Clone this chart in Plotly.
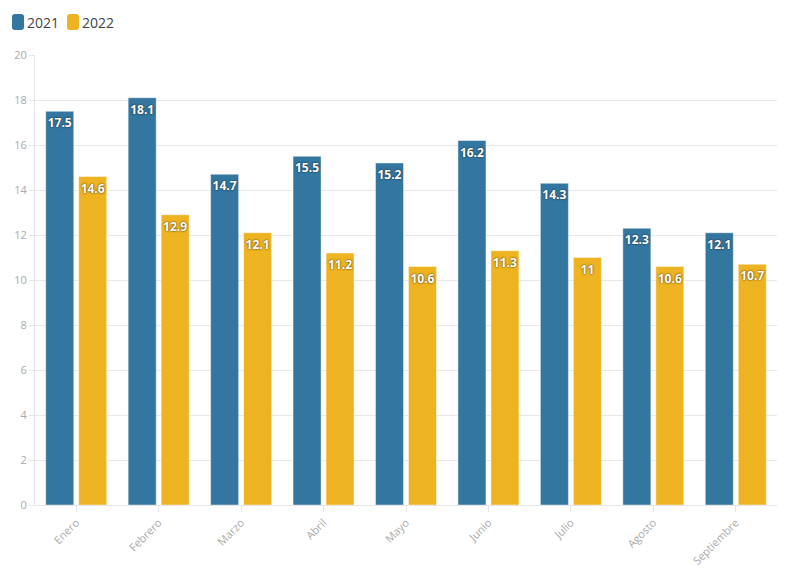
import plotly.graph_objects as go

# 月份与两年的数值
meses = ['Enero', 'Febrero', 'Marzo', 'Abril', 'Mayo', 'Junio', 'Julio', 'Agosto', 'Septiembre']
valores_2021 = [17.5, 18.1, 14.7, 15.5, 15.2, 16.2, 14.3, 12.3, 12.1]
valores_2022 = [14.6, 12.9, 12.1, 11.2, 10.6, 11.3, 11.0, 10.6, 10.7]

series = [('2021', valores_2021, 'rgb(51,118,159)'),
          ('2022', valores_2022, 'rgb(238,179,32)')]

fig = go.Figure()

for nombre, valores, color in series:
    fig.add_trace(go.Bar(
        x=meses,
        y=valores,
        name=nombre,
        marker=dict(color=color, line=dict(color='rgba(255,255,255,0.45)', width=1)),
        text=[f'{v:g}' for v in valores],
        textposition='inside',
        insidetextanchor='end',
        textangle=0,
        textfont=dict(family='Open Sans', size=12, color='white', weight='bold',
                      shadow='0px 0px 2px #1a1a1a'),
        hoverinfo='x+y+name',
        showlegend=False
    ))

# 页面 body 默认有 8px 边距，尺寸与边距据此补偿
OFF = 8
W, H = 796 - 2 * OFF, 575 - 2 * OFF
ml, mr, mt, mb = 35 - OFF, 796 - 777 - OFF, 55 - OFF, 575 - 505 - OFF
pw, ph = W - ml - mr, H - mt - mb


def px_x(v):
    return (v - OFF - ml) / pw


def px_y(v):
    return (H - mb - (v - OFF)) / ph


# 自定义图例：圆角色块 + 文字
leyenda_x = [12, 67]
for (nombre, _, color), x0 in zip(series, leyenda_x):
    x1 = x0 + 12
    y0, y1 = 14, 30
    r = 3
    path = (f'M {px_x(x0 + r)} {px_y(y0)} L {px_x(x1 - r)} {px_y(y0)} '
            f'Q {px_x(x1)} {px_y(y0)} {px_x(x1)} {px_y(y0 + r)} '
            f'L {px_x(x1)} {px_y(y1 - r)} Q {px_x(x1)} {px_y(y1)} {px_x(x1 - r)} {px_y(y1)} '
            f'L {px_x(x0 + r)} {px_y(y1)} Q {px_x(x0)} {px_y(y1)} {px_x(x0)} {px_y(y1 - r)} '
            f'L {px_x(x0)} {px_y(y0 + r)} Q {px_x(x0)} {px_y(y0)} {px_x(x0 + r)} {px_y(y0)} Z')
    fig.add_shape(type='path', path=path, xref='paper', yref='paper',
                  fillcolor=color, line=dict(width=0))
    fig.add_annotation(x=px_x(x1 + 1), y=px_y(22), xref='paper', yref='paper',
                       text=nombre, showarrow=False, xanchor='left', yanchor='middle',
                       font=dict(size=14, color='#444'))

fig.update_layout(
    width=W,
    height=H,
    barmode='group',
    bargap=0.2,
    bargroupgap=0.15,
    font=dict(family='Open Sans', color='#444'),
    margin=dict(l=ml, r=mr, t=mt, b=mb, autoexpand=False),
    plot_bgcolor='white',
    paper_bgcolor='white',
    showlegend=False,
    uniformtext=dict(minsize=12, mode='show'),
    xaxis=dict(
        automargin=False,
        tickangle=-45,
        tickfont=dict(size=11, color='#aaaaaa'),
        showline=True,
        linecolor='#e6e6e6',
        ticks='outside',
        tickcolor='#e6e6e6',
        ticklen=6,
        showgrid=False
    ),
    yaxis=dict(
        automargin=False,
        range=[0, 20],
        dtick=2,
        tickfont=dict(size=11, color='#aaaaaa'),
        gridcolor='#e8e8e8',
        showline=True,
        linecolor='#e6e6e6',
        ticks='outside',
        tickcolor='#e6e6e6',
        ticklen=5,
        zeroline=False
    )
)

fig.write_html('out.html')
